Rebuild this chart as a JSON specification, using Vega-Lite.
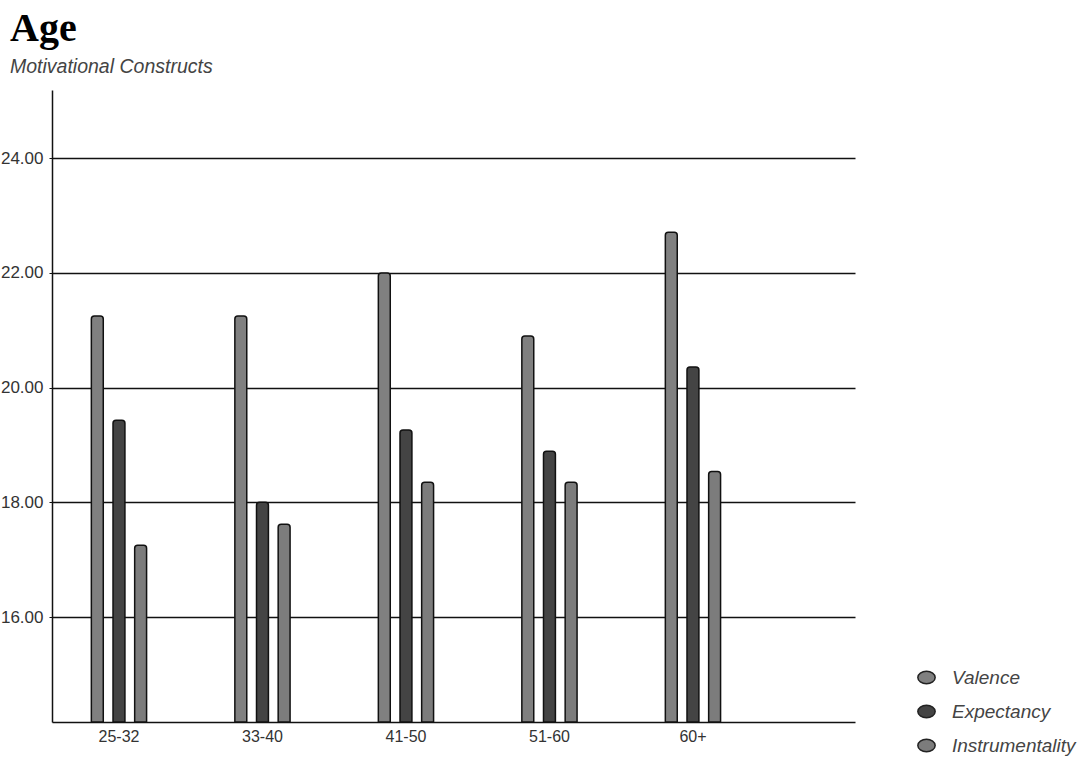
{
  "$schema": "https://vega.github.io/schema/vega-lite/v6.json",
  "width": 803,
  "height": 632,
  "autosize": "none",
  "padding": {"left": 52, "top": 90, "right": 231, "bottom": 60},
  "background": "white",
  "title": {
    "text": "Age",
    "subtitle": "Motivational Constructs",
    "anchor": "start",
    "frame": "group",
    "dx": -42,
    "offset": 14,
    "font": "Liberation Serif",
    "fontSize": 40,
    "fontWeight": "bold",
    "color": "#000000",
    "subtitleFont": "Liberation Sans",
    "subtitleFontSize": 19.5,
    "subtitleFontStyle": "italic",
    "subtitleColor": "#444444",
    "subtitlePadding": 9
  },
  "data": {
    "values": [
      {"age": "25-32", "construct": "Valence", "score": 21.25},
      {"age": "25-32", "construct": "Expectancy", "score": 19.43},
      {"age": "25-32", "construct": "Instrumentality", "score": 17.25},
      {"age": "33-40", "construct": "Valence", "score": 21.25},
      {"age": "33-40", "construct": "Expectancy", "score": 18.0},
      {"age": "33-40", "construct": "Instrumentality", "score": 17.62},
      {"age": "41-50", "construct": "Valence", "score": 22.0},
      {"age": "41-50", "construct": "Expectancy", "score": 19.26},
      {"age": "41-50", "construct": "Instrumentality", "score": 18.35},
      {"age": "51-60", "construct": "Valence", "score": 20.9},
      {"age": "51-60", "construct": "Expectancy", "score": 18.89},
      {"age": "51-60", "construct": "Instrumentality", "score": 18.35},
      {"age": "60+", "construct": "Valence", "score": 22.71},
      {"age": "60+", "construct": "Expectancy", "score": 20.36},
      {"age": "60+", "construct": "Instrumentality", "score": 18.54}
    ]
  },
  "mark": {
    "type": "bar",
    "stroke": "#111111",
    "strokeWidth": 1.5,
    "cornerRadiusTopLeft": 3,
    "cornerRadiusTopRight": 3
  },
  "encoding": {
    "x": {
      "field": "age",
      "type": "nominal",
      "sort": null,
      "scale": {"paddingInner": 0.6, "paddingOuter": 0.598, "align": 0.223},
      "axis": {
        "title": null,
        "labelAngle": 0,
        "ticks": false,
        "domainColor": "#111111",
        "domainWidth": 1.5,
        "labelFont": "Liberation Sans",
        "labelFontSize": 16,
        "labelColor": "#333333",
        "labelPadding": 6
      }
    },
    "xOffset": {
      "field": "construct",
      "type": "nominal",
      "scale": {"domain": ["Valence", "Expectancy", "Instrumentality"], "paddingInner": 0.45, "paddingOuter": 0.05}
    },
    "y": {
      "field": "score",
      "type": "quantitative",
      "scale": {"domain": [14.17, 25.19], "zero": false, "nice": false},
      "axis": {
        "title": null,
        "values": [16, 18, 20, 22, 24],
        "format": ".2f",
        "grid": true,
        "gridColor": "#111111",
        "gridWidth": 1.5,
        "gridOpacity": 1,
        "domainColor": "#111111",
        "domainWidth": 1.5,
        "tickColor": "#111111",
        "tickSize": 3,
        "labelFont": "Liberation Sans",
        "labelFontSize": 17,
        "labelColor": "#333333",
        "labelPadding": 6
      }
    },
    "y2": {"datum": 14.17},
    "color": {
      "field": "construct",
      "type": "nominal",
      "scale": {"domain": ["Valence", "Expectancy", "Instrumentality"], "range": ["#808080", "#444444", "#7c7c7c"]},
      "legend": {
        "title": null,
        "orient": "none",
        "legendX": 865,
        "legendY": 578,
        "symbolType": "M -1 0 A 1 0.72 0 1 0 1 0 A 1 0.72 0 1 0 -1 0 Z",
        "symbolSize": 300,
        "symbolStrokeColor": "#222222",
        "symbolStrokeWidth": 1.5,
        "symbolOpacity": 1,
        "labelFont": "Liberation Sans",
        "labelFontSize": 19,
        "labelFontStyle": "italic",
        "labelColor": "#444444",
        "labelOffset": 16,
        "rowPadding": 14
      }
    }
  },
  "config": {
    "view": {"stroke": null},
    "axis": {"gridCap": "butt"}
  }
}
